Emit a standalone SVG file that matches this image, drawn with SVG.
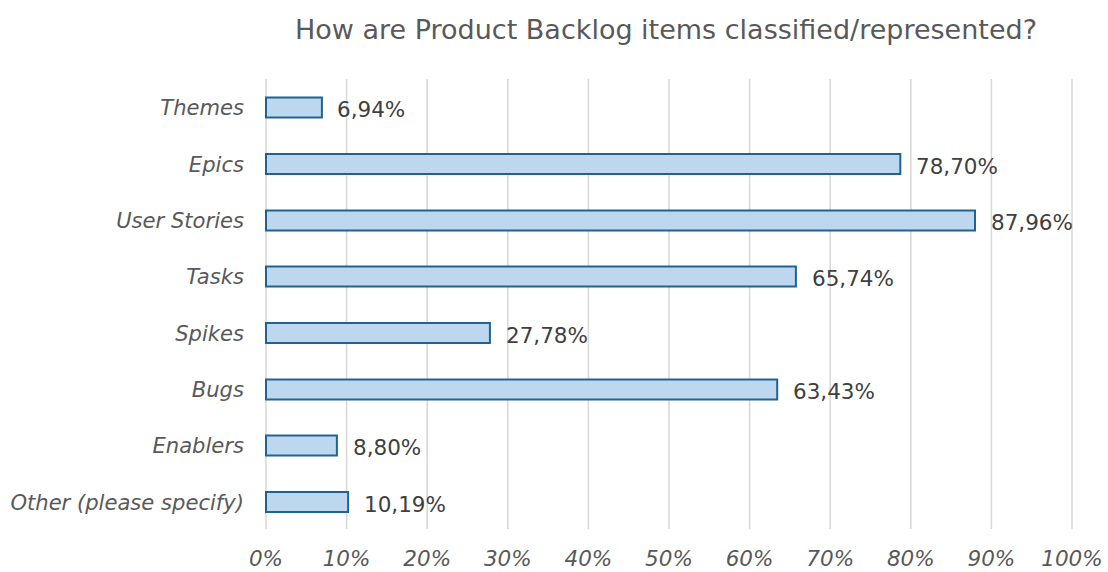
<svg xmlns="http://www.w3.org/2000/svg" width="1108" height="572" viewBox="0 0 1108 572">
<style>
text{font-family:"DejaVu Sans",sans-serif}
.title{font-size:27px;fill:#595959;text-anchor:middle}
.cat{font-size:21.1px;font-style:italic;fill:#595959;text-anchor:end}
.tick{font-size:21.5px;font-style:italic;fill:#595959;text-anchor:middle}
.val{font-size:21.5px;fill:#404040}
.grid line{stroke:#D9D9D9;stroke-width:1.6}
.bar{fill:#BDD7EE;stroke:#1F6391;stroke-width:2}
</style>
<rect width="1108" height="572" fill="#FFFFFF"/>
<text class="title" x="666" y="39">How are Product Backlog items classified/represented?</text>
<g id="grid" class="grid">
<line x1="266" y1="79" x2="266" y2="529"/>
<line x1="346.6" y1="79" x2="346.6" y2="529"/>
<line x1="427.2" y1="79" x2="427.2" y2="529"/>
<line x1="507.8" y1="79" x2="507.8" y2="529"/>
<line x1="588.4" y1="79" x2="588.4" y2="529"/>
<line x1="669" y1="79" x2="669" y2="529"/>
<line x1="749.6" y1="79" x2="749.6" y2="529"/>
<line x1="830.2" y1="79" x2="830.2" y2="529"/>
<line x1="910.8" y1="79" x2="910.8" y2="529"/>
<line x1="991.4" y1="79" x2="991.4" y2="529"/>
<line x1="1072" y1="79" x2="1072" y2="529"/>
</g>
<g id="axis-x">
<text class="tick" x="266" y="566">0%</text>
<text class="tick" x="346.6" y="566">10%</text>
<text class="tick" x="427.2" y="566">20%</text>
<text class="tick" x="507.8" y="566">30%</text>
<text class="tick" x="588.4" y="566">40%</text>
<text class="tick" x="669" y="566">50%</text>
<text class="tick" x="749.6" y="566">60%</text>
<text class="tick" x="830.2" y="566">70%</text>
<text class="tick" x="910.8" y="566">80%</text>
<text class="tick" x="991.4" y="566">90%</text>
<text class="tick" x="1072" y="566">100%</text>
</g>
<g id="themes">
<text class="cat" x="244" y="115">Themes</text>
<rect class="bar" x="266" y="97.5" width="55.9" height="20"/>
<text class="val" x="337" y="117">6,94%</text>
</g>
<g id="epics">
<text class="cat" x="244" y="171.5">Epics</text>
<rect class="bar" x="266" y="154" width="634.3" height="20"/>
<text class="val" x="916" y="173.5">78,70%</text>
</g>
<g id="user-stories">
<text class="cat" x="244" y="228">User Stories</text>
<rect class="bar" x="266" y="210.5" width="709" height="20"/>
<text class="val" x="991" y="230">87,96%</text>
</g>
<g id="tasks">
<text class="cat" x="244" y="284">Tasks</text>
<rect class="bar" x="266" y="266.5" width="529.9" height="20"/>
<text class="val" x="812" y="286">65,74%</text>
</g>
<g id="spikes">
<text class="cat" x="244" y="340.5">Spikes</text>
<rect class="bar" x="266" y="323" width="223.9" height="20"/>
<text class="val" x="506" y="342.5">27,78%</text>
</g>
<g id="bugs">
<text class="cat" x="244" y="397">Bugs</text>
<rect class="bar" x="266" y="379.5" width="511.2" height="20"/>
<text class="val" x="793" y="399">63,43%</text>
</g>
<g id="enablers">
<text class="cat" x="244" y="453">Enablers</text>
<rect class="bar" x="266" y="435.5" width="70.9" height="20"/>
<text class="val" x="353" y="455">8,80%</text>
</g>
<g id="other">
<text class="cat" x="244" y="509.5">Other (please specify)</text>
<rect class="bar" x="266" y="492" width="82.1" height="20"/>
<text class="val" x="364" y="511.5">10,19%</text>
</g>
</svg>
